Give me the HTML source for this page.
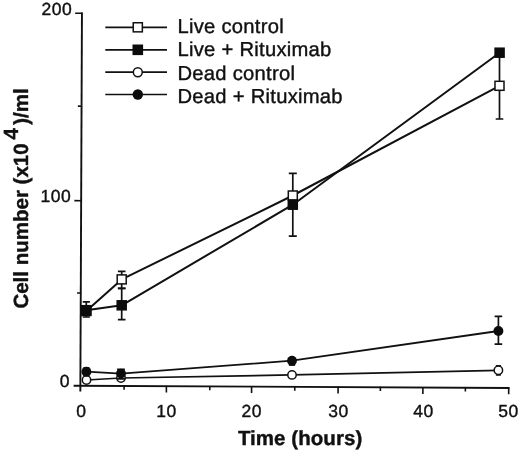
<!DOCTYPE html>
<html><head><meta charset="utf-8"><title>Cell number vs time</title>
<style>
html,body{margin:0;padding:0;background:#fff;}
body{width:520px;height:452px;overflow:hidden;}
svg{display:block;will-change:transform;}
text{-webkit-font-smoothing:antialiased;text-rendering:geometricPrecision;}
</style></head>
<body>
<svg width="520" height="452" viewBox="0 0 520 452">
<rect width="520" height="452" fill="#fff"/>
<path d="M81.95 12.5 L80.35 391.6" stroke="#111" stroke-width="1.9" fill="none" stroke-linecap="butt"/>
<path d="M73.6 385.75 L509.5 387.93" stroke="#111" stroke-width="1.9" fill="none" stroke-linecap="butt"/>
<path d="M77.07 292.97 L81.27 293.00 M74.36 200.67 L81.66 200.70 M77.86 106.17 L82.06 106.20 M75.15 13.27 L82.45 13.30 M124.10 385.50 L124.07 389.80 M166.40 385.71 L166.37 392.61 M209.80 385.93 L209.77 390.23 M251.60 386.14 L251.57 393.04 M294.80 386.36 L294.77 390.66 M338.10 386.57 L338.07 393.47 M380.40 386.78 L380.37 391.08 M422.90 387.00 L422.87 393.90 M465.40 387.21 L465.37 391.51 M508.70 387.43 L508.67 394.32" stroke="#111" stroke-width="1.6" fill="none" stroke-linecap="butt"/>
<path d="M105.3 27.3 H167" stroke="#111" stroke-width="1.7"/>
<rect x="133.25" y="22.75" width="9.10" height="9.10" fill="#fff" stroke="#111" stroke-width="1.5"/>
<path d="M105.3 49.8 H167" stroke="#111" stroke-width="1.7"/>
<rect x="132.50" y="44.50" width="10.6" height="10.6" fill="#0c0c0c"/>
<path d="M105.3 72.2 H167" stroke="#111" stroke-width="1.7"/>
<circle cx="137.80" cy="72.20" r="4.45" fill="#fff" stroke="#111" stroke-width="1.5"/>
<path d="M105.3 94.5 H167" stroke="#111" stroke-width="1.7"/>
<circle cx="137.80" cy="94.50" r="5.20" fill="#0c0c0c"/>
<polyline points="86.5,380.0 121.0,378.0 292.0,374.9 498.4,370.3" fill="none" stroke="#111" stroke-width="1.75" stroke-linejoin="round"/>
<polyline points="86.4,371.7 121.0,373.6 292.0,360.7 498.4,331.0" fill="none" stroke="#111" stroke-width="1.8" stroke-linejoin="round"/>
<polyline points="86.3,311.0 121.7,279.4 292.8,195.5 499.5,85.8" fill="none" stroke="#111" stroke-width="2.0" stroke-linejoin="round"/>
<polyline points="86.3,310.2 121.7,305.3 292.8,204.7 499.6,52.7" fill="none" stroke="#111" stroke-width="2.0" stroke-linejoin="round"/>
<path d="M86.3 301.9 V317.0 M82.7 301.9 H89.9 M82.7 317.0 H89.9" stroke="#111" stroke-width="1.7" fill="none"/>
<path d="M121.7 271.3 V288.3 M117.9 271.3 H125.5 M117.9 288.3 H125.5" stroke="#111" stroke-width="1.7" fill="none"/>
<path d="M121.7 288.3 V319.6 M117.9 288.3 H125.5 M117.9 319.6 H125.5" stroke="#111" stroke-width="1.7" fill="none"/>
<path d="M292.8 173.3 V236.1 M288.8 173.3 H296.8 M288.8 236.1 H296.8" stroke="#111" stroke-width="1.7" fill="none"/>
<path d="M499.5 52.7 V119.0 M495.7 52.7 H503.3 M495.7 119.0 H503.3" stroke="#111" stroke-width="1.7" fill="none"/>
<path d="M498.4 316.3 V344.2 M494.6 316.3 H502.2 M494.6 344.2 H502.2" stroke="#111" stroke-width="1.7" fill="none"/>
<path d="M498.4 365.9 V374.8 M495.9 365.9 H500.9 M495.9 374.8 H500.9" stroke="#111" stroke-width="1.7" fill="none"/>
<circle cx="86.50" cy="380.00" r="4.20" fill="#fff" stroke="#111" stroke-width="1.5"/>
<circle cx="121.00" cy="378.00" r="4.20" fill="#fff" stroke="#111" stroke-width="1.5"/>
<circle cx="292.00" cy="374.90" r="4.20" fill="#fff" stroke="#111" stroke-width="1.5"/>
<circle cx="498.40" cy="370.30" r="4.20" fill="#fff" stroke="#111" stroke-width="1.5"/>
<path d="M121.0 369.3 V378.9 M117.1 369.3 H124.9 M117.1 378.9 H124.9" stroke="#111" stroke-width="1.8" fill="none"/>
<path d="M288.9 365.0 H295.1" stroke="#111" stroke-width="1.7"/>
<path d="M83.4 367.6 H89.4" stroke="#111" stroke-width="1.2"/>
<circle cx="86.40" cy="371.70" r="4.95" fill="#0c0c0c"/>
<circle cx="121.00" cy="373.60" r="4.95" fill="#0c0c0c"/>
<circle cx="292.00" cy="360.70" r="4.95" fill="#0c0c0c"/>
<circle cx="498.40" cy="331.00" r="4.95" fill="#0c0c0c"/>
<rect x="81.80" y="306.50" width="9.00" height="9.00" fill="#fff" stroke="#111" stroke-width="1.5"/>
<rect x="117.20" y="274.90" width="9.00" height="9.00" fill="#fff" stroke="#111" stroke-width="1.5"/>
<rect x="288.30" y="191.00" width="9.00" height="9.00" fill="#fff" stroke="#111" stroke-width="1.5"/>
<rect x="495.00" y="81.30" width="9.00" height="9.00" fill="#fff" stroke="#111" stroke-width="1.5"/>
<rect x="81.05" y="304.95" width="10.5" height="10.5" fill="#0c0c0c"/>
<rect x="116.45" y="300.05" width="10.5" height="10.5" fill="#0c0c0c"/>
<rect x="287.55" y="199.45" width="10.5" height="10.5" fill="#0c0c0c"/>
<rect x="494.35" y="47.45" width="10.5" height="10.5" fill="#0c0c0c"/>
<text x="72.2" y="14.9" font-size="17.5" letter-spacing="0.5" text-anchor="end" font-family="Liberation Sans, Arial, Helvetica, sans-serif" fill="#111" stroke="#111" stroke-width="0.4" stroke-linejoin="round">200</text>
<text x="71.3" y="201.8" font-size="17.5" letter-spacing="0.5" text-anchor="end" font-family="Liberation Sans, Arial, Helvetica, sans-serif" fill="#111" stroke="#111" stroke-width="0.4" stroke-linejoin="round">100</text>
<text x="70.1" y="387.2" font-size="17.5" letter-spacing="0.5" text-anchor="end" font-family="Liberation Sans, Arial, Helvetica, sans-serif" fill="#111" stroke="#111" stroke-width="0.4" stroke-linejoin="round">0</text>
<text x="81.25" y="417.0" font-size="17.5" letter-spacing="0.5" text-anchor="middle" font-family="Liberation Sans, Arial, Helvetica, sans-serif" fill="#111" stroke="#111" stroke-width="0.4" stroke-linejoin="round">0</text>
<text x="166.55" y="417.0" font-size="17.5" letter-spacing="0.5" text-anchor="middle" font-family="Liberation Sans, Arial, Helvetica, sans-serif" fill="#111" stroke="#111" stroke-width="0.4" stroke-linejoin="round">10</text>
<text x="251.75" y="417.0" font-size="17.5" letter-spacing="0.5" text-anchor="middle" font-family="Liberation Sans, Arial, Helvetica, sans-serif" fill="#111" stroke="#111" stroke-width="0.4" stroke-linejoin="round">20</text>
<text x="338.45" y="417.0" font-size="17.5" letter-spacing="0.5" text-anchor="middle" font-family="Liberation Sans, Arial, Helvetica, sans-serif" fill="#111" stroke="#111" stroke-width="0.4" stroke-linejoin="round">30</text>
<text x="423.55" y="417.0" font-size="17.5" letter-spacing="0.5" text-anchor="middle" font-family="Liberation Sans, Arial, Helvetica, sans-serif" fill="#111" stroke="#111" stroke-width="0.4" stroke-linejoin="round">40</text>
<text x="508.55" y="417.0" font-size="17.5" letter-spacing="0.5" text-anchor="middle" font-family="Liberation Sans, Arial, Helvetica, sans-serif" fill="#111" stroke="#111" stroke-width="0.4" stroke-linejoin="round">50</text>
<text x="177.5" y="32.7" font-size="20.2" letter-spacing="0.27" font-family="Liberation Sans, Arial, Helvetica, sans-serif" fill="#111" stroke="#111" stroke-width="0.4" stroke-linejoin="round">Live control</text>
<text x="177.5" y="56.2" font-size="20.2" letter-spacing="0.27" font-family="Liberation Sans, Arial, Helvetica, sans-serif" fill="#111" stroke="#111" stroke-width="0.4" stroke-linejoin="round">Live + Rituximab</text>
<text x="177.5" y="79.8" font-size="20.2" letter-spacing="0.27" font-family="Liberation Sans, Arial, Helvetica, sans-serif" fill="#111" stroke="#111" stroke-width="0.4" stroke-linejoin="round">Dead control</text>
<text x="177.5" y="103.4" font-size="20.2" letter-spacing="0.27" font-family="Liberation Sans, Arial, Helvetica, sans-serif" fill="#111" stroke="#111" stroke-width="0.4" stroke-linejoin="round">Dead + Rituximab</text>
<text x="237.9" y="444.5" font-size="20.5" font-weight="bold" letter-spacing="0.05" font-family="Liberation Sans, Arial, Helvetica, sans-serif" fill="#111" stroke="#111" stroke-width="0.4" stroke-linejoin="round">Time (hours)</text>
<text transform="translate(28.4 308.6) rotate(-90)" font-size="20.5" font-weight="bold" letter-spacing="0" font-family="Liberation Sans, Arial, Helvetica, sans-serif" fill="#111" stroke="#111" stroke-width="0.4" stroke-linejoin="round">Cell number (x10<tspan dy="-10.9" dx="4">4</tspan><tspan dy="10.9" dx="3.2">)/ml</tspan></text>
</svg>
</body></html>
